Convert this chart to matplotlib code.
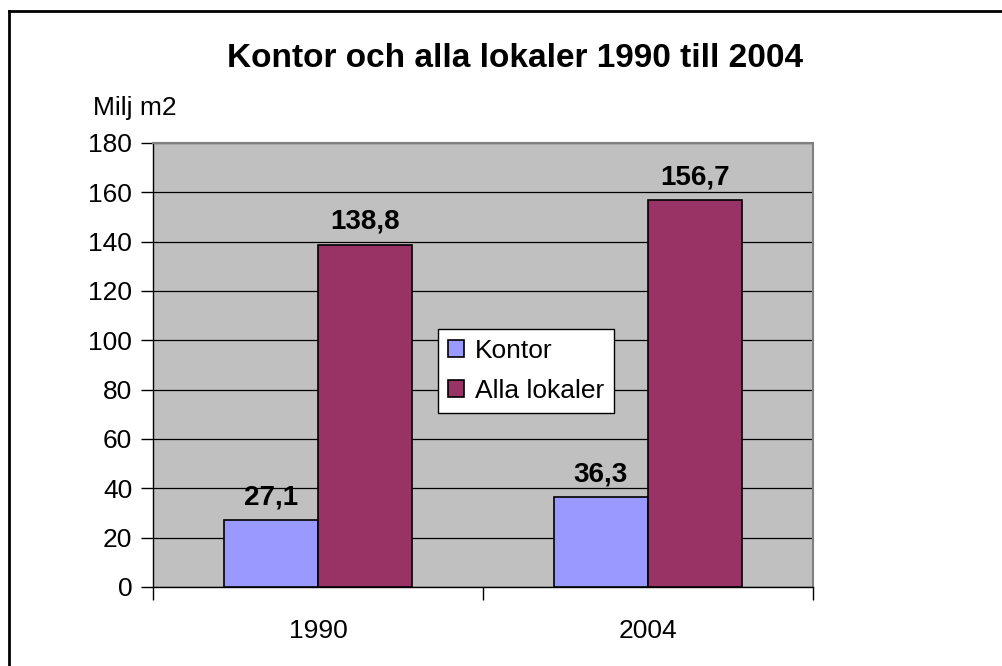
import matplotlib

matplotlib.use("Agg")
import matplotlib.pyplot as plt
from matplotlib.lines import Line2D

plt.rcParams["font.family"] = ["Liberation Sans", "DejaVu Sans"]

years = ["1990", "2004"]
series_names = ["Kontor", "Alla lokaler"]
kontor = [27.1, 36.3]
alla_lokaler = [138.8, 156.7]
value_labels = [["27,1", "36,3"], ["138,8", "156,7"]]
y_ticks = [0, 20, 40, 60, 80, 100, 120, 140, 160, 180]

colors = ["#9999FF", "#993366"]

W, H = 1003, 666
fig = plt.figure(figsize=(W / 100, H / 100), dpi=100)

# outer chart border: only the top and left edges fall inside the picture
bx, by = 9 / W, 1 - 11 / H
fig.lines.append(Line2D([bx, 1], [by, by], transform=fig.transFigure,
                        color="black", linewidth=2))
fig.lines.append(Line2D([bx, bx], [0, by], transform=fig.transFigure,
                        color="black", linewidth=2))

ax = fig.add_axes([153 / W, (H - 587) / H, 660 / W, 444 / H])
ax.set_facecolor("#C0C0C0")

bar_w = 2 / 7
centers = [0.5, 1.5]
for k, (vals, name) in enumerate(zip([kontor, alla_lokaler], series_names)):
    xs = [c + (k - 0.5) * bar_w for c in centers]
    bars = ax.bar(xs, vals, width=bar_w, color=colors[k], edgecolor="black",
                  linewidth=1.2, label=name, zorder=3)
    for b, lab in zip(bars, value_labels[k]):
        ax.annotate(lab, (b.get_x() + b.get_width() / 2, b.get_height()),
                    xytext=(0, 11.5), textcoords="offset points",
                    ha="center", va="baseline", fontsize=20, fontweight="bold")

ax.set_xlim(0, 2)
ax.set_ylim(0, 180)
ax.set_yticks(y_ticks)
ax.yaxis.grid(True, color="black", linewidth=0.9, zorder=1)
ax.set_axisbelow(True)
ax.tick_params(axis="y", direction="out", length=9, width=1, labelsize=19, pad=6)

ax.set_xticks([0, 1, 2])
ax.set_xticklabels([])
ax.set_xticks(centers, minor=True)
ax.set_xticklabels(years, minor=True)
ax.tick_params(axis="x", which="major", direction="out", length=9, width=1)
ax.tick_params(axis="x", which="minor", length=0, labelsize=19, pad=23)

for s in ["top", "right"]:
    ax.spines[s].set_color("#808080")
    ax.spines[s].set_linewidth(1.5)
for s in ["left", "bottom"]:
    ax.spines[s].set_color("black")
    ax.spines[s].set_linewidth(1)

leg = ax.legend(loc="upper left", bbox_to_anchor=(0.432, 0.581), fontsize=19,
                frameon=True, fancybox=False, framealpha=1, edgecolor="black",
                handlelength=0.6, handleheight=0.6, handletextpad=0.4,
                borderpad=0.38, labelspacing=0.6, borderaxespad=0)
leg.get_frame().set_linewidth(1)

fig.text(93 / W, 1 - 115 / H, "Milj m2", fontsize=19, va="baseline", ha="left")
fig.text(515 / W, 1 - 67 / H, "Kontor och alla lokaler 1990 till 2004",
         fontsize=24, fontweight="bold", ha="center", va="baseline")

fig.savefig("out.png", dpi=100)
